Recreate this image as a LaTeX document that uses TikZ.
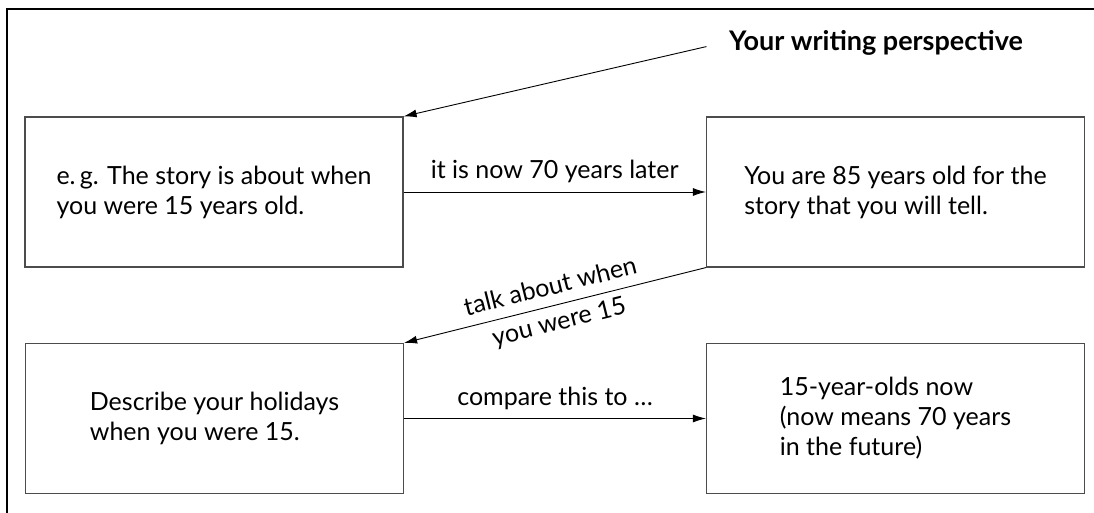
\documentclass[tikz,border=0pt]{standalone}
\usepackage{fontspec}
\setmainfont{Lato}
\usetikzlibrary{arrows.meta}

\begin{document}
\begin{tikzpicture}[x=0.5pt,y=-0.5pt,
	storybox/.style={draw=black!70,line width=0.6pt,minimum width=189pt,minimum height=75pt,align=left,font=\fontsize{12.5}{15}\selectfont},
	pointer/.style={line width=0.45pt,-{Latex[length=6.5pt,width=4pt]}},
	note/.style={font=\fontsize{12.5}{15}\selectfont}]
\useasboundingbox (0,0) rectangle (1094,513);

\draw[line width=0.6pt] (7,513)--(7,9)--(1094,9);

\node[storybox] (past) at (214,192) {e.\,g. The story is about when\\you were 15 years old.};
\node[storybox] (old) at (895.5,192) {You are 85 years old for the\\story that you will tell.};
\node[storybox] (holiday) at (214.5,418.5) {Describe your holidays\\when you were 15.};
\node[storybox] (future) at (895.5,418.5) {15-year-olds now\\(now means 70 years\\in the future)};

\node[font=\bfseries\fontsize{13.5}{15}\selectfont,anchor=west] (view) at (722,43) {Your writing perspective};

\draw[pointer,shorten <=8pt] (view.west)--(past.north east);
\draw[pointer] (past.east)--(old.west) node[note,midway,above=1pt] {it is now 70 years later};
\draw[pointer] (old.south west)--(holiday.north east)
	node[note,midway,sloped,align=center,inner sep=0pt,font=\fontsize{12.5}{18}\selectfont] {talk about when\\you were 15};
\draw[pointer] (holiday.east)--(future.west) node[note,midway,above=1pt] {compare this to \dots};

\end{tikzpicture}
\end{document}
